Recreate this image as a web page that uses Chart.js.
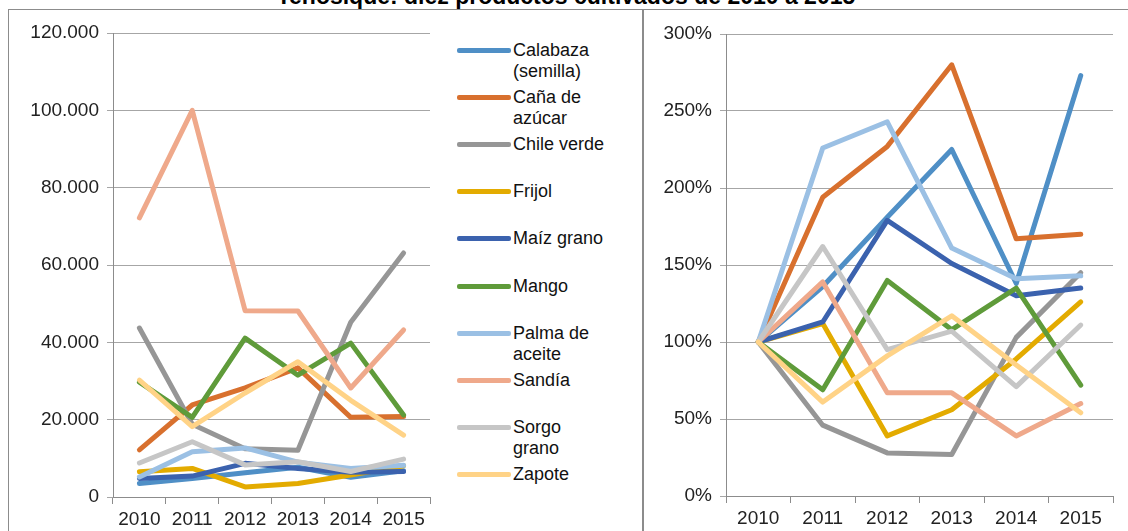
<!DOCTYPE html>
<html>
<head>
<meta charset="utf-8">
<script src="https://cdn.jsdelivr.net/npm/chart.js@4.4.1/dist/chart.umd.min.js"></script>
<style>
  body { margin: 0; background: #fff; font-family: "Liberation Sans", Arial, sans-serif; }
  #page { position: relative; width: 1128px; height: 531px; overflow: hidden; }
  .box { position: absolute; border: 1px solid #8c8c8c; }
  .wrap { position: absolute; top: 0; height: 531px; }
  #title { position: absolute; top: -15px; left: 0; width: 1132px; text-align: center;
           font-weight: bold; font-size: 23px; line-height: 23px; color: #000; }
  #legend { position: absolute; left: 457px; top: 0; }
  .item { position: absolute; left: 0; width: 160px; }
  .item .swatch { position: absolute; left: 0; top: 8px; width: 54px; height: 5px; border-radius: 2px; }
  .item .txt { position: absolute; left: 56px; width: 96px; font-size: 18px; line-height: 21px; color: #111; }
</style>
</head>
<body>
<div id="page">
  <div class="box" style="left:8px; top:9px; width:634px; height:560px;"></div>
  <div class="box" style="left:642px; top:9px; width:520px; height:560px;"></div>
  <div id="title">Tenosique: diez productos cultivados de 2010 a 2015</div>
  <div class="wrap" style="left:0; width:440px;"><canvas id="absChart"></canvas></div>
  <div class="wrap" style="left:642px; width:486px;"><canvas id="pctChart"></canvas></div>
  <div id="legend"></div>
</div>
<script>
// data
const years = ["2010", "2011", "2012", "2013", "2014", "2015"];
const products = ["Calabaza (semilla)", "Caña de azúcar", "Chile verde", "Frijol", "Maíz grano",
  "Mango", "Palma de aceite", "Sandía", "Sorgo grano", "Zapote"];
const colors = ["#4f8fc6", "#d8702e", "#969696", "#e3ab00", "#3b62ae",
  "#5f9b3a", "#9bc0e4", "#efa98b", "#c6c6c6", "#ffd387"];

// left chart: produccion
const calabaza = [3500, 4800, 6300, 7700, 5100, 6800];
const cana = [12200, 23800, 28200, 33400, 20600, 20800];
const chile = [43700, 18800, 12500, 12100, 45200, 63100];
const frijol = [6500, 7400, 2600, 3500, 5700, 8100];
const maiz = [4800, 5400, 8700, 7400, 6400, 6600];
const mango = [29700, 20600, 41100, 31500, 39800, 21200];
const palma = [5200, 11700, 12700, 9000, 7400, 8200];
const sandia = [72200, 100000, 48200, 48100, 28200, 43200];
const sorgo = [8800, 14300, 8300, 9100, 6600, 9800];
const zapote = [30200, 18200, 26900, 35000, 25000, 16000];
const absValues = [calabaza, cana, chile, frijol, maiz, mango, palma, sandia, sorgo, zapote];

// right chart: indice 2010 = 100%
const calabazaPct = [100, 136, 181, 225, 138, 273];
const canaPct = [100, 194, 227, 280, 167, 170];
const chilePct = [100, 46, 28, 27, 103, 145];
const frijolPct = [100, 112, 39, 56, 89, 126];
const maizPct = [100, 113, 179, 151, 130, 135];
const mangoPct = [100, 69, 140, 108, 135, 72];
const palmaPct = [100, 226, 243, 161, 141, 143];
const sandiaPct = [100, 139, 67, 67, 39, 60];
const sorgoPct = [100, 162, 95, 107, 71, 111];
const zapotePct = [100, 61, 91, 117, 85, 54];
const pctValues = [calabazaPct, canaPct, chilePct, frijolPct, maizPct, mangoPct, palmaPct, sandiaPct, sorgoPct, zapotePct];

const absTicks = [0, 20000, 40000, 60000, 80000, 100000, 120000];
const pctTicks = [0, 50, 100, 150, 200, 250, 300];

const FONT = { family: "'Liberation Sans', Arial, sans-serif", size: 19 };
const AXIS = "#8c8c8c";

function makeDatasets(values) {
  return values.map((data, i) => ({
    label: products[i],
    data,
    borderColor: colors[i],
    backgroundColor: colors[i],
    borderWidth: 5,
    pointRadius: 0,
    tension: 0,
    borderCapStyle: "round",
    borderJoinStyle: "round",
    order: -i,
  }));
}

function createChart(id, values, tickValues, fmt, box) {
  return new Chart(document.getElementById(id), {
    type: "line",
    data: { labels: years, datasets: makeDatasets(values) },
    options: {
      responsive: true,
      maintainAspectRatio: false,
      animation: false,
      layout: { padding: { left: 0, top: box.top, right: box.right, bottom: 0 } },
      plugins: { legend: { display: false }, tooltip: { enabled: false } },
      scales: {
        x: {
          offset: true,
          grid: { offset: true, drawOnChartArea: false, color: AXIS, tickLength: 7 },
          border: { color: AXIS },
          ticks: { color: "#222", font: FONT, padding: 4, maxRotation: 0, autoSkip: false },
          afterFit: (s) => { s.height = box.bottom; },
        },
        y: {
          min: tickValues[0],
          max: tickValues[tickValues.length - 1],
          afterBuildTicks: (s) => { s.ticks = tickValues.map((v) => ({ value: v })); },
          grid: { color: "#a6a6a6", tickLength: 6 },
          border: { color: AXIS },
          ticks: { color: "#222", font: FONT, padding: 8, callback: fmt },
          afterFit: (s) => { s.width = box.left; },
        },
      },
    },
  });
}

createChart("absChart", absValues, absTicks,
  (v) => (v === 0 ? "0" : v / 1000 + ".000"),
  { left: 113, top: 33, right: 10, bottom: 34 });

createChart("pctChart", pctValues, pctTicks,
  (v) => v + "%",
  { left: 84, top: 34, right: 15, bottom: 35 });

// legend
const legend = document.getElementById("legend");
products.forEach((name, i) => {
  const item = document.createElement("div");
  item.className = "item";
  item.style.top = (50 + i * 47.2 - 10.5) + "px";
  item.innerHTML = '<div class="swatch" style="background:' + colors[i] + '"></div><div class="txt">' + name + "</div>";
  legend.appendChild(item);
});
</script>
</body>
</html>
